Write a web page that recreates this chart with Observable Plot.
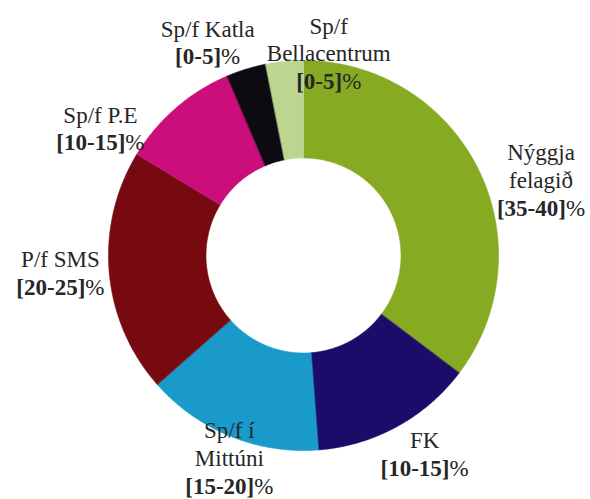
<!DOCTYPE html>
<html>
<head>
<meta charset="utf-8">
<script src="https://cdn.jsdelivr.net/npm/d3@7"></script>
<script src="https://cdn.jsdelivr.net/npm/@observablehq/plot@0.6"></script>
<style>
  html, body { margin: 0; padding: 0; background: #fff; }
  #chart svg { display: block; }
</style>
</head>
<body>
<div id="chart"></div>
<script>
// ---- data ----
const names = ["Nýggja felagið", "FK", "Sp/f í Mittúni", "P/f SMS", "Sp/f P.E", "Sp/f Katla", "Sp/f Bellacentrum"];
const shares = [35.3, 13.5, 14.7, 20.2, 9.9, 3.3, 3.1];
const nameLines = [["Nýggja", "felagið"], ["FK"], ["Sp/f í", "Mittúni"], ["P/f SMS"], ["Sp/f P.E"], ["Sp/f Katla"], ["Sp/f", "Bellacentrum"]];
const rangeLabels = ["[35-40]", "[10-15]", "[15-20]", "[20-25]", "[10-15]", "[0-5]", "[0-5]"];
const colors = ["#86aa22", "#1a0c68", "#1a9acb", "#760a10", "#cb0e7c", "#0e0a12", "#bcd690"];

// ---- layout ----
const W = 590, H = 499;
const cx = 303, cy = 255, R = 195;     // pixel centre/radius
const inner = 0.5;                      // hole ratio
const labelR = 1.2;
const FONT = "Liberation Serif, Times New Roman, serif";
// label nudges in pixels (dx, dy) from the point at labelR on the mid-angle
const nudge = {
  "Nýggja felagið": [28, 28],
  "FK": [9, -8],
  "Sp/f í Mittúni": [14, -15],
  "P/f SMS": [-10, -4],
  "Sp/f P.E": [-50, 49],
  "Sp/f Katla": [-27, 10],
  "Sp/f Bellacentrum": [48, 30]
};

const pie = d3.pie().sort(null).value(d => d.share);
const rows = names.map((n, i) => ({name: n, share: shares[i], lines: nameLines[i], range: rangeLabels[i]}));
const arcs = pie(rows);

// polygon points for each slice (angles clockwise from 12 o'clock)
const pts = [];
for (const a of arcs) {
  const steps = Math.max(2, Math.ceil((a.endAngle - a.startAngle) / (Math.PI / 360)));
  const outer = d3.range(steps + 1).map(k => a.startAngle + (a.endAngle - a.startAngle) * k / steps);
  for (const t of outer) pts.push({name: a.data.name, x: Math.sin(t), y: Math.cos(t)});
  for (const t of outer.slice().reverse()) pts.push({name: a.data.name, x: inner * Math.sin(t), y: inner * Math.cos(t)});
}

const labels = arcs.map(a => {
  const m = (a.startAngle + a.endAngle) / 2;
  const [dx, dy] = nudge[a.data.name];
  return {
    name: a.data.name,
    x: labelR * Math.sin(m) + dx / R,
    y: labelR * Math.cos(m) - dy / R,
    text: [...a.data.lines, a.data.range + "%"].join("\n")
  };
});

const chart = Plot.plot({
  width: W,
  height: H,
  margin: 0,
  x: {domain: [-cx / R, (W - cx) / R], axis: null},
  y: {domain: [-(H - cy) / R, cy / R], axis: null},
  color: {domain: names, range: colors},
  marks: [
    Plot.line(pts, {x: "x", y: "y", z: "name", fill: "name", stroke: "name", strokeWidth: 0.6, curve: "linear-closed"}),
    Plot.text(labels, {
      x: "x", y: "y", text: "text",
      fontFamily: FONT,
      fontSize: 23,
      lineHeight: 1.2,
      lineAnchor: "middle",
      textAnchor: "middle",
      fill: "#262626"
    })
  ]
});

// bold the bracketed range, keep "%" regular; pin the serif family on every text node
chart.setAttribute("font-family", FONT);
chart.querySelectorAll("text, tspan").forEach(t => {
  t.setAttribute("font-family", FONT);
  t.style.fontFamily = FONT;
});
chart.querySelectorAll("text").forEach(t => {
  const spans = t.querySelectorAll("tspan");
  const last = spans.length ? spans[spans.length - 1] : null;
  if (!last) return;
  const m = last.textContent.match(/^(\[.*\])(%)$/);
  if (!m) return;
  last.textContent = "";
  const b = document.createElementNS("http://www.w3.org/2000/svg", "tspan");
  b.setAttribute("font-weight", "bold");
  b.setAttribute("font-family", FONT);
  b.textContent = m[1];
  last.appendChild(b);
  last.appendChild(document.createTextNode(m[2]));
});

document.getElementById("chart").appendChild(chart);
</script>
</body>
</html>
